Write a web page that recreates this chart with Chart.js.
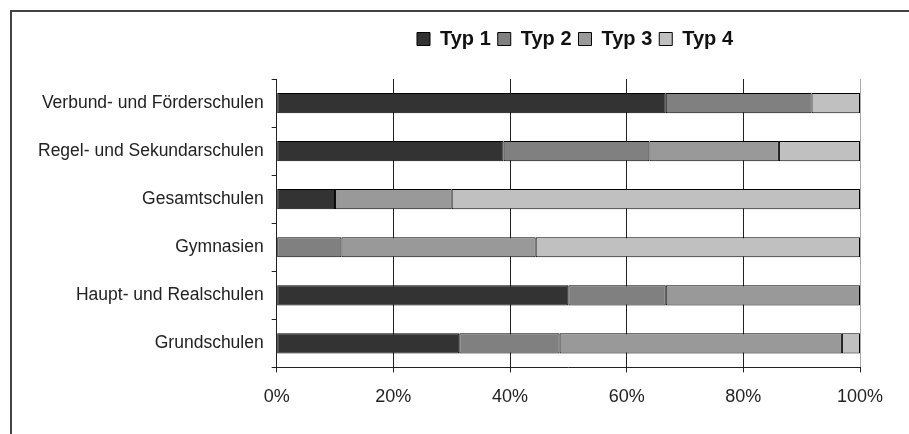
<!DOCTYPE html>
<html>
<head>
<meta charset="utf-8">
<script src="https://cdn.jsdelivr.net/npm/chart.js@4/dist/chart.umd.min.js"></script>
<style>
  html, body { margin: 0; padding: 0; background: #fff; overflow: hidden; }
  #wrap { position: relative; width: 909px; height: 434px; }
  #frame { position: absolute; left: 10px; top: 10px; width: 920px; height: 440px;
           border-left: 2px solid #444; border-top: 2px solid #444; }
  #Graph { position: absolute; left: 0; top: 0; }
</style>
</head>
<body>
<div id="wrap">
  <div id="frame"></div>
  <canvas id="Graph" width="909" height="434"></canvas>
</div>
<script>
const schools = ["Verbund- und Förderschulen", "Regel- und Sekundarschulen", "Gesamtschulen",
                 "Gymnasien", "Haupt- und Realschulen", "Grundschulen"];

// share per school type, in percent
const typ1 = [66.7, 38.9, 10.0, 0.0, 50.0, 31.3];
const typ2 = [25.0, 25.0, 0.0, 11.1, 16.7, 17.2];
const typ3 = [0.0, 22.2, 20.0, 33.3, 33.3, 48.4];
const typ4 = [8.3, 13.9, 70.0, 55.6, 0.0, 3.1];

const seriesNames = ["Typ 1", "Typ 2", "Typ 3", "Typ 4"];
const percentTicks = [0, 20, 40, 60, 80, 100];

const dark = "#333333";
const mid = "#808080";
const light = "#999999";
const pale = "#c0c0c0";
const fills = [dark, mid, light, pale];

const font = "'Liberation Sans', Arial, sans-serif";

// legend sits over the plot (not the canvas) and keeps some air below it
const legendTweak = {
    id: "legendTweak",
    afterInit(chart) {
        const lg = chart.legend;
        const fit = lg.fit.bind(lg);
        lg.fit = function () { fit(); this.height += 20; };
    },
    afterLayout(chart) {
        const lg = chart.legend;
        lg.left += 130; lg.right += 130;
    }
};

function main() {
    const sets = [typ1, typ2, typ3, typ4].map((vals, i) => ({
        label: seriesNames[i],
        data: vals,
        backgroundColor: fills[i],
        borderColor: "#000",
        borderWidth: 1,
        borderSkipped: false,
        barPercentage: 0.42,
        categoryPercentage: 1
    }));

    new Chart("Graph", {
        type: "bar",
        data: { labels: schools, datasets: sets },
        plugins: [legendTweak],
        options: {
            indexAxis: "y",
            responsive: false,
            animation: false,
            devicePixelRatio: 1,
            layout: { padding: { left: 30, right: 49, top: 22, bottom: 12 } },
            plugins: {
                tooltip: { enabled: false },
                legend: {
                    position: "top",
                    labels: {
                        boxWidth: 13, boxHeight: 13, padding: 7,
                        color: "#111",
                        font: { family: font, size: 20, weight: "bold" }
                    }
                }
            },
            scales: {
                x: {
                    stacked: true, min: 0, max: 100,
                    afterBuildTicks: (ax) => { ax.ticks = percentTicks.map(v => ({ value: v })); },
                    ticks: { callback: v => v + "%", color: "#222", padding: 14,
                             font: { family: font, size: 18 } },
                    grid: { color: ctx => ctx.index === 5 ? "#aaa" : "#222", lineWidth: 1,
                            tickLength: 5, tickColor: "#222" },
                    border: { display: true, color: "#222", width: 1 }
                },
                y: {
                    stacked: true,
                    ticks: { color: "#222", padding: 8, font: { family: font, size: 17.5 } },
                    grid: { drawOnChartArea: false, offset: true, tickLength: 5, color: "#222" },
                    border: { display: true, color: "#222", width: 1 }
                }
            }
        }
    });
}

main();
</script>
</body>
</html>
